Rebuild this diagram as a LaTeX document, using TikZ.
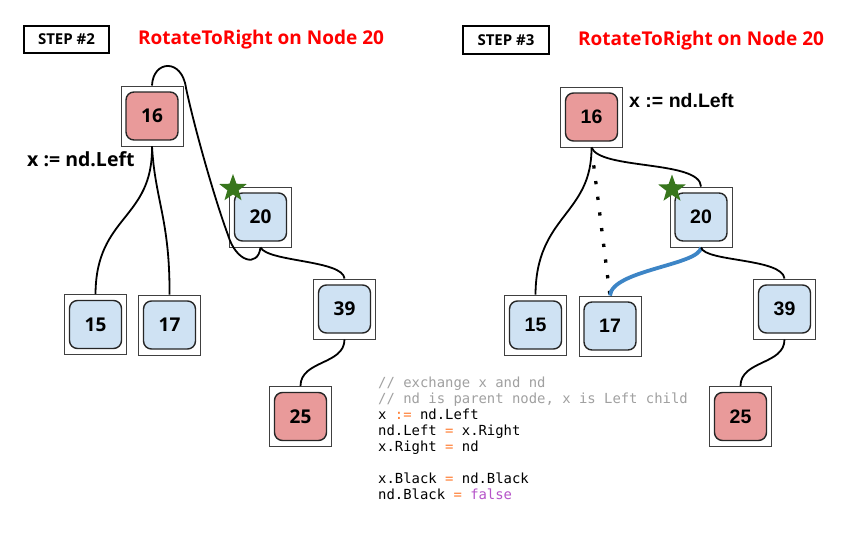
\documentclass[tikz,border=0pt]{standalone}
\usepackage{fontspec}
\setmainfont{Open Sans}
\setmonofont{DejaVu Sans Mono}
\newfontfamily\arialf{Liberation Sans}
\usetikzlibrary{shapes.geometric}
\definecolor{nodered}{HTML}{E99A9A}
\definecolor{nodeblue}{HTML}{CFE2F3}
\definecolor{stargreen}{HTML}{38761D}
\definecolor{blueedge}{HTML}{3D85C6}
\definecolor{codegray}{HTML}{A0A0A0}
\definecolor{codeorange}{HTML}{FF7A2E}
\definecolor{codepurple}{HTML}{B553C8}
\definecolor{titlered}{HTML}{FF0000}
\tikzset{
  outerbox/.style={draw=black!75, fill=white, line width=0.9pt, minimum width=62pt, minimum height=60pt, inner sep=0pt},
  innerbox/.style={draw=black!85, line width=1.4pt, rounded corners=8pt, minimum width=52pt, minimum height=48pt, inner sep=0pt},
  leftnum/.style={font=\fontsize{19}{19}\selectfont\bfseries},
  rightnum/.style={font=\arialf\fontsize{19.5}{19.5}\selectfont\bfseries},
  edge/.style={line width=1.8pt, black},
  bluelink/.style={line width=3.8pt, blueedge},
  dotlink/.style={line width=3.3pt, dash pattern=on 3.3pt off 12.5pt},
  stepbox/.style={draw=black, line width=1.2pt, minimum width=85pt, minimum height=27pt, inner sep=0pt, font=\fontsize{15}{15}\selectfont\bfseries},
  titletext/.style={anchor=base, inner sep=0pt, text=titlered, font=\fontsize{19}{19}\selectfont\bfseries},
  greenstar/.style={star, star points=5, star point ratio=2.45, minimum size=29pt, inner sep=0pt, fill=stargreen},
  codeline/.style={anchor=base west, inner sep=0pt, font=\ttfamily\fontsize{13.9}{16}\selectfont},
}
\newcommand\treenode[5]{%
  \node[outerbox] (#1) at (#2) {};
  \node[innerbox, fill=#4, #5] (#1-in) at (#2) {#3};
}
\begin{document}
\begin{tikzpicture}[x=1pt, y=-1pt]
\useasboundingbox (0,0) rectangle (862,535);

% ---------- headers ----------
\node[stepbox] (step2) at (66.5,39.5) {STEP \#2};
\node[titletext] (title2) at (261,45) {RotateToRight on Node 20};
\node[stepbox, minimum width=86pt, minimum height=28pt] (step3) at (506,40) {STEP \#3};
\node[titletext] (title3) at (701,45.5) {RotateToRight on Node 20};

% ---------- left tree (step 2) ----------
\treenode{L16}{152,116}{16}{nodered}{leftnum}
\treenode{L20}{260.5,217}{20}{nodeblue}{leftnum}
\treenode{L15}{95.5,324.5}{15}{nodeblue}{leftnum}
\treenode{L17}{169.5,325}{17}{nodeblue}{leftnum}
\treenode{L39}{344.5,309}{39}{nodeblue}{leftnum}
\treenode{L25}{300.5,416.5}{25}{nodered}{leftnum}
\node[anchor=base west, inner sep=0pt, font=\fontsize{19.5}{19.5}\selectfont\bfseries] (xleft) at (27,166.5) {x := nd.Left};
\node[greenstar] (star2) at (233,188.5) {};

\draw[edge] (L16.south) .. controls (153,220) and (96,215) .. (L15.north);
\draw[edge] (L16.south) .. controls (155,200) and (170,220) .. (L17.north);
\draw[edge] (L16.north) .. controls (153,60) and (182,58) .. (186,88)
   .. controls (195,130) and (215,200) .. (228,235)
   .. controls (236,262) and (258,268) .. (L20.south);
\draw[edge] (L20.south) .. controls (268,262) and (343,260) .. (L39.north);
\draw[edge] (L39.south) .. controls (344.5,365) and (300.5,360) .. (L25.north);

% ---------- right tree (step 3) ----------
\treenode{R16}{591.5,117}{16}{nodered}{rightnum}
\treenode{R20}{701,217}{20}{nodeblue}{rightnum}
\treenode{R15}{535.5,325}{15}{nodeblue}{rightnum}
\treenode{R17}{610,326}{17}{nodeblue}{rightnum}
\treenode{R39}{784.5,309}{39}{nodeblue}{rightnum}
\treenode{R25}{740.5,416.5}{25}{nodered}{rightnum}
\node[anchor=base west, inner sep=0pt, font=\arialf\fontsize{19.5}{19.5}\selectfont\bfseries] (xright) at (629,107.3) {x := nd.Left};
\node[greenstar] (star3) at (672,189) {};

\draw[edge] (R16.south) .. controls (592,215) and (536,215) .. (R15.north);
\draw[edge] (R16.south) .. controls (600,170) and (700,160) .. (R20.north);
\draw[dotlink, shorten <=18pt] (R16.south) -- (R17.north);
\draw[bluelink] (R20.south) .. controls (700,265) and (612,270) .. (R17.north);
\draw[edge] (R20.south) .. controls (705,262) and (782,258) .. (R39.north);
\draw[edge] (R39.south) .. controls (784.5,365) and (740.5,360) .. (R25.north);

% ---------- code ----------
\node[codeline, text=codegray] (c1) at (378,387) {// exchange x and nd};
\node[codeline, text=codegray] (c2) at (378,403) {// nd is parent node, x is Left child};
\node[codeline] (c3) at (378,419) {x \textcolor{codeorange}{:=} nd.Left};
\node[codeline] (c4) at (378,435) {nd.Left \textcolor{codeorange}{=} x.Right};
\node[codeline] (c5) at (378,451) {x.Right \textcolor{codeorange}{=} nd};
\node[codeline] (c6) at (378,483) {x.Black \textcolor{codeorange}{=} nd.Black};
\node[codeline] (c7) at (378,499) {nd.Black \textcolor{codeorange}{=} \textcolor{codepurple}{false}};
\end{tikzpicture}
\end{document}
